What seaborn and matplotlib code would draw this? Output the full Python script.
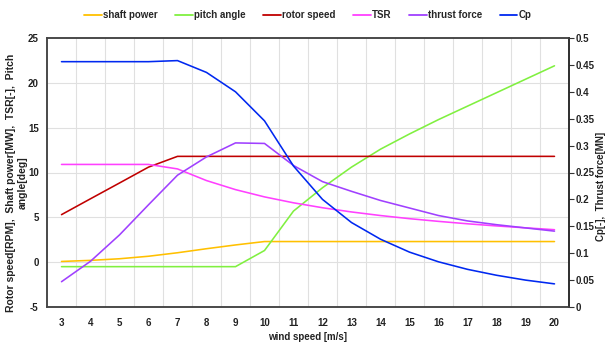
import matplotlib
matplotlib.use("Agg")
import matplotlib.pyplot as plt
import seaborn as sns
import pandas as pd
from matplotlib.lines import Line2D

# Operating curves of the turbine versus wind speed
wind_speed = [3, 4, 5, 6, 7, 8, 9, 10, 11, 12, 13, 14, 15, 16, 17, 18, 19, 20]
shaft_power = [0.08, 0.2, 0.38, 0.66, 1.05, 1.5, 1.92, 2.3, 2.3, 2.3, 2.3, 2.3,
               2.3, 2.3, 2.3, 2.3, 2.3, 2.3]
pitch_angle = [-0.5, -0.5, -0.5, -0.5, -0.5, -0.5, -0.5, 1.3, 5.7, 8.3, 10.6,
               12.6, 14.3, 15.9, 17.4, 18.9, 20.4, 21.9]
rotor_speed = [5.3, 7.07, 8.83, 10.6, 11.8, 11.8, 11.8, 11.8, 11.8, 11.8, 11.8,
               11.8, 11.8, 11.8, 11.8, 11.8, 11.8, 11.8]
tsr = [10.9, 10.9, 10.9, 10.9, 10.4, 9.1, 8.09, 7.28, 6.62, 6.07, 5.6, 5.2,
       4.85, 4.55, 4.28, 4.04, 3.83, 3.62]
thrust_force = [0.047, 0.085, 0.134, 0.19, 0.245, 0.279, 0.305, 0.304, 0.263,
                0.233, 0.215, 0.198, 0.184, 0.17, 0.16, 0.153, 0.147, 0.141]
cp = [0.456, 0.456, 0.456, 0.456, 0.458, 0.436, 0.400, 0.346, 0.262, 0.200,
      0.157, 0.126, 0.102, 0.084, 0.070, 0.059, 0.050, 0.043]

left_ticks = [-5, 0, 5, 10, 15, 20, 25]
right_ticks = [0, 0.05, 0.1, 0.15, 0.2, 0.25, 0.3, 0.35, 0.4, 0.45, 0.5]
right_tick_labels = ["0", "0.05", "0.1", "0.15", "0.2", "0.25", "0.3", "0.35",
                     "0.4", "0.45", "0.5"]

df = pd.DataFrame({
    "wind": wind_speed,
    "shaft power": shaft_power,
    "pitch angle": pitch_angle,
    "rotor speed": rotor_speed,
    "TSR": tsr,
    "thrust force": thrust_force,
    "Cp": cp,
})

colors = {
    "shaft power": "#FFC000",
    "pitch angle": "#80F040",
    "rotor speed": "#C00000",
    "TSR": "#FF40FF",
    "thrust force": "#A040FF",
    "Cp": "#0028F0",
}

sns.set_style("white")
plt.rcParams["font.family"] = ["Liberation Sans", "DejaVu Sans"]

W, H = 606, 345
fig = plt.figure(figsize=(W / 100, H / 100), dpi=100)
x0, x1, y0, y1 = 47, 569, 38, 307
ax = fig.add_axes([x0 / W, 1 - y1 / H, (x1 - x0) / W, (y1 - y0) / H])
ax2 = ax.twinx()

lw = 1.15
for name in ["shaft power", "pitch angle", "rotor speed", "TSR"]:
    sns.lineplot(data=df, x="wind", y=name, ax=ax, color=colors[name],
                 linewidth=lw, legend=False)
for name in ["thrust force", "Cp"]:
    sns.lineplot(data=df, x="wind", y=name, ax=ax2, color=colors[name],
                 linewidth=lw, legend=False)

ax.set_xlim(2.5, 20.5)
ax.set_ylim(-5, 25)
ax2.set_ylim(0, 0.5)

# grid: vertical lines between categories, horizontal at left-axis ticks
for xv in [v + 0.5 for v in wind_speed[:-1]]:
    ax.axvline(xv, color="#e0e0e0", linewidth=0.8, zorder=0)
for yv in left_ticks[1:-1]:
    ax.axhline(yv, color="#e0e0e0", linewidth=0.8, zorder=0)

ax.set_xticks(wind_speed)
ax.set_xticklabels([str(v) for v in wind_speed])
ax.set_yticks(left_ticks)
ax.set_yticklabels([str(v) for v in left_ticks])
ax2.set_yticks(right_ticks)
ax2.set_yticklabels(right_tick_labels)

for lab in ax.get_xticklabels() + ax.get_yticklabels() + ax2.get_yticklabels():
    lab.set_fontsize(7)
    lab.set_fontweight("bold")
    lab.set_color("#222222")

ax.tick_params(axis="x", length=0, pad=8)
ax.tick_params(axis="y", length=0, pad=6)
ax2.tick_params(axis="y", length=3.5, width=0.8, color="#333333", pad=1.5,
                direction="out")

for a in (ax, ax2):
    for s in a.spines.values():
        s.set_color("#444444")
        s.set_linewidth(1.1)
ax2.spines["right"].set_color("#222222")

ax.set_xlabel("")
ax.set_ylabel("")
ax2.set_ylabel("")

fig.text((x0 + x1) / 2 / W, 1 - 337 / H, "wind speed [m/s]", ha="center",
         va="center", fontsize=7, fontweight="bold", color="#222222")
fig.text(17 / W, 1 - 183 / H,
         "Rotor speed[RPM],  Shaft power[MW],  TSR[-],  Pitch\nangle[deg]",
         rotation=90, ha="center", va="center", fontsize=7.5,
         fontweight="bold", color="#222222", multialignment="center")
fig.text(600.5 / W, 1 - 186 / H, "Cp[-],  Thrust force[MN]", rotation=90,
         ha="center", va="center", fontsize=7, fontweight="bold",
         color="#222222")

handles = [Line2D([0], [0], color=colors[n], linewidth=1.3) for n in colors]
fig.legend(handles, list(colors.keys()), loc="center",
           bbox_to_anchor=((x0 + x1) / 2 / W, 1 - 15 / H), ncol=6,
           frameon=False, prop={"weight": "bold", "size": 7},
           handlelength=1.8, handletextpad=0.15, columnspacing=1.8)

fig.savefig("out.png", dpi=100)
